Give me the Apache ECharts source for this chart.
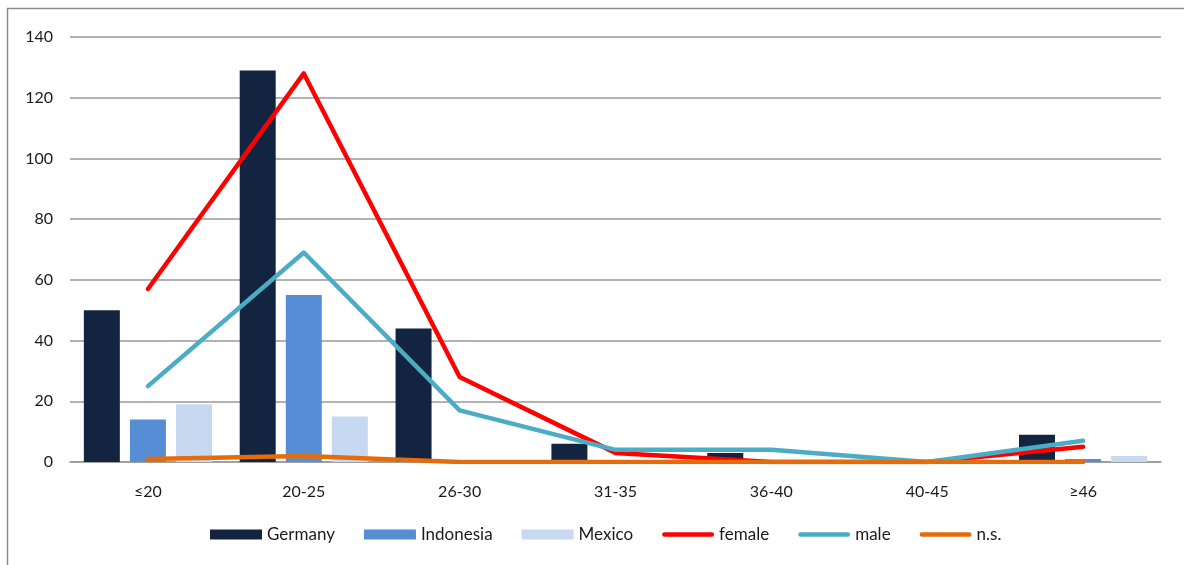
<!DOCTYPE html>
<html>
<head>
<meta charset="utf-8">
<script src="https://cdn.jsdelivr.net/npm/echarts@6/dist/echarts.min.js"></script>
<style>
html,body{margin:0;padding:0;background:#fff;}
#chart{width:1184px;height:565px;}
</style>
</head>
<body>
<div id="chart"></div>
<script>
const categories = ['≤20','20-25','26-30','31-35','36-40','40-45','≥46'];
const germany   = [50, 129, 44, 6, 3, 0, 9];
const indonesia = [14, 55, 0, 0, 0, 0, 1];
const mexico    = [19, 15, 0, 0, 0, 0, 2];
const female    = [57, 128, 28, 3, 0, 0, 5];
const male      = [25, 69, 17, 4, 4, 0, 7];
const ns        = [1, 2, 0, 0, 0, 0, 0];
const yTicks = {min: 0, max: 140, interval: 20};

const FONT = 'Lato, "Open Sans", sans-serif';
const LINE_ICON = 'path://M2.5,0 L53.5,0 A2.5,2.5 0 0 1 53.5,5 L2.5,5 A2.5,2.5 0 0 1 2.5,0 Z';
const chart = echarts.init(document.getElementById('chart'));

function barSeries(name, data, color) {
  return {
    name, type: 'bar', data, barWidth: 36, barGap: '28%',
    itemStyle: {color}, emphasis: {disabled: true}
  };
}
function lineSeries(name, data, color) {
  return {
    name, type: 'line', data, symbol: 'none', showSymbol: false,
    lineStyle: {color, width: 4.5, cap: 'round', join: 'round'},
    itemStyle: {color}, emphasis: {disabled: true}, z: 5
  };
}

chart.setOption({
  animation: false,
  backgroundColor: '#fff',
  graphic: [{
    type: 'rect', shape: {x: 7.5, y: 8.5, width: 1300, height: 700},
    style: {fill: 'none', stroke: '#8c8c8c', lineWidth: 1.5}, silent: true, z: -1
  }],
  grid: {left: 70, right: 23, top: 37, bottom: 103, containLabel: false},
  legend: {
    bottom: 17, left: 205, itemGap: 29, itemWidth: 52, itemHeight: 10,
    textStyle: {fontFamily: FONT, fontSize: 17, color: '#1a1a1a'},
    data: [
      {name: 'Germany', icon: 'rect'},
      {name: 'Indonesia', icon: 'rect'},
      {name: 'Mexico', icon: 'rect'},
      {name: 'female', icon: LINE_ICON, itemStyle: {color: '#FF0000', borderWidth: 0}, lineStyle: {width: 0}},
      {name: 'male', icon: LINE_ICON, itemStyle: {color: '#4BACC6', borderWidth: 0}, lineStyle: {width: 0}},
      {name: 'n.s.', icon: LINE_ICON, itemStyle: {color: '#E46C0A', borderWidth: 0}, lineStyle: {width: 0}}
    ]
  },
  xAxis: {
    type: 'category', data: categories,
    axisLine: {lineStyle: {color: '#999', width: 1.5}},
    axisTick: {show: false},
    axisLabel: {fontFamily: FONT, fontSize: 16, color: '#1a1a1a', margin: 22}
  },
  yAxis: {
    type: 'value', min: yTicks.min, max: yTicks.max, interval: yTicks.interval,
    axisLine: {show: false}, axisTick: {show: false},
    axisLabel: {fontFamily: FONT, fontSize: 16, color: '#1a1a1a', margin: 17},
    splitLine: {lineStyle: {color: '#999', width: 1.5}}
  },
  series: [
    barSeries('Germany', germany, '#12243F'),
    barSeries('Indonesia', indonesia, '#558ED5'),
    barSeries('Mexico', mexico, '#C6D9F1'),
    lineSeries('female', female, '#FF0000'),
    lineSeries('male', male, '#4BACC6'),
    lineSeries('n.s.', ns, '#E46C0A')
  ]
});
</script>
</body>
</html>
